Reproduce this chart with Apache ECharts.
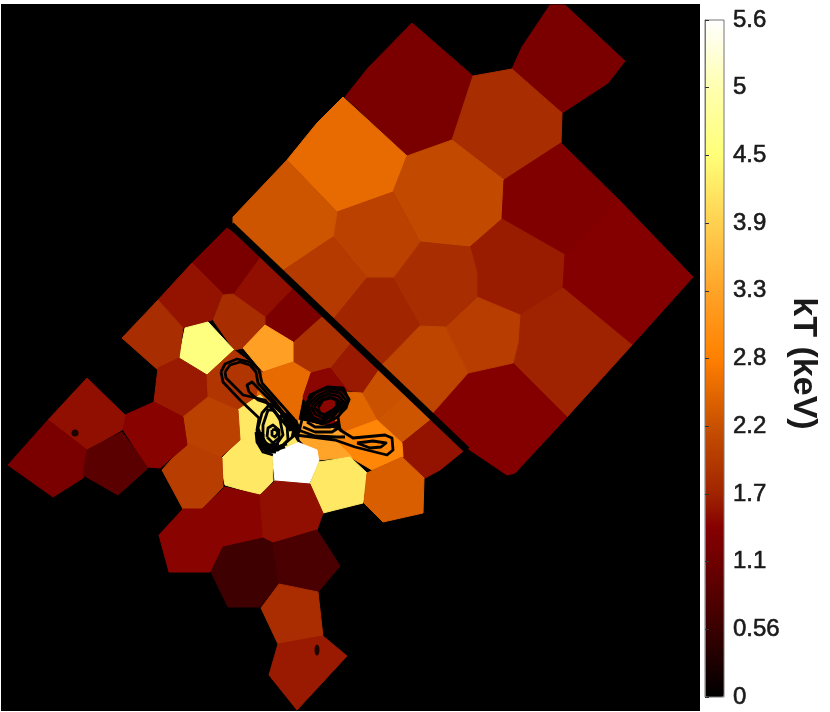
<!DOCTYPE html>
<html>
<head>
<meta charset="utf-8">
<title>kT map</title>
<script src="https://cdn.jsdelivr.net/npm/echarts@6/dist/echarts.min.js"></script>
<style>
html, body { margin: 0; padding: 0; background: #fff; }
#chart { width: 830px; height: 712px; }
</style>
</head>
<body>
<div id="chart"></div>
<script>
// colour bar
const tickLabels = ['0', '0.56', '1.1', '1.7', '2.2', '2.8', '3.3', '3.9', '4.5', '5', '5.6'];
const heatColors = [
  '#000000', '#1c0000', '#3a0000', '#540000', '#6e0000', '#860000', '#a02400',
  '#b43a00', '#c85000', '#e46800', '#ff8000', '#ff9214', '#ffa428', '#ffba3c',
  '#ffd050', '#ffe864', '#ffff78', '#ffff94', '#ffffb0', '#ffffd8', '#ffffff'
];

// temperature of each region, same order as cellOutlines
const cellKT = [
  1.26, 1.26, 1.79, 2.55, 2.16, 1.33, 1.62, 1.38, 1.67, 1.38,
  2.0, 1.79, 2.05, 2.3, 1.96, 1.7, 2.1, 2.25, 2.3, 1.55,
  1.6, 1.85, 1.3, 1.52, 1.26, 1.55, 1.79, 3.3, 4.55, 1.79,
  1.6, 1.9, 2.55, 1.45, 2.5, 2.9, 3.36, 5.6, 4.2, 4.2,
  4.2, 2.4, 2.05, 2.0, 1.42, 1.52, 1.26, 0.92, 1.43, 1.52,
  0.6, 0.73, 1.8, 1.6
];

// region outlines, read in picture pixels
const cellOutlines = [
  [[550,5],[565,5],[625,61],[608,83],[562,113],[512,69],[522,47],[540,20]],
  [[412,23],[473,76],[452,140],[407,156],[345,97],[368,68]],
  [[473,76],[512,69],[562,113],[561,143],[504,180],[452,140]],
  [[343,97],[407,156],[393,192],[337,212],[287,160],[317,123]],
  [[407,156],[452,140],[504,180],[502,219],[470,247],[420,242],[393,192]],
  [[561,143],[619,200],[565,255],[502,219],[504,180]],
  [[470,247],[502,219],[565,255],[563,288],[520,315],[477,297],[477,273]],
  [[619,200],[693,277],[632,345],[563,288],[565,255]],
  [[563,288],[632,345],[567,417],[513,363],[518,343],[520,315]],
  [[513,363],[567,417],[515,473],[507,475],[467,448],[430,416],[468,373]],
  [[477,297],[520,315],[518,343],[513,363],[468,373],[445,327]],
  [[420,242],[470,247],[477,273],[477,297],[445,327],[420,326],[393,278]],
  [[337,212],[393,192],[420,242],[393,278],[367,278],[333,237]],
  [[287,160],[337,212],[333,237],[278,274],[233,225],[233,217]],
  [[333,237],[367,278],[332,321],[278,274]],
  [[367,278],[393,278],[420,326],[380,367],[332,321]],
  [[420,326],[445,327],[468,373],[430,416],[380,367]],
  [[380,367],[362,393],[377,420],[407,393]],
  [[407,393],[377,420],[402,443],[433,418]],
  [[433,418],[402,443],[403,457],[423,479],[440,470],[467,448]],
  [[330,368],[352,341],[380,367],[362,393],[347,390]],
  [[293,342],[323,315],[352,341],[330,368],[311,373],[293,362]],
  [[265,317],[295,286],[323,315],[293,342],[265,327]],
  [[233,294],[262,254],[295,286],[265,317]],
  [[227,228],[262,254],[233,294],[223,294],[192,263]],
  [[192,263],[223,294],[212,320],[183,328],[158,300]],
  [[213,320],[223,295],[233,294],[265,317],[265,327],[243,348],[234,350]],
  [[265,325],[293,342],[293,362],[263,372],[243,348]],
  [[185,328],[208,322],[234,350],[207,375],[179,358]],
  [[158,300],[183,328],[179,358],[158,370],[122,338]],
  [[158,368],[179,358],[207,375],[208,397],[183,417],[154,402]],
  [[207,375],[234,350],[263,372],[260,395],[238,410],[208,397]],
  [[263,372],[293,362],[311,373],[303,395],[298,420],[257,395]],
  [[311,373],[330,368],[347,390],[350,420],[320,425],[303,397]],
  [[347,392],[362,393],[377,420],[345,432],[335,420]],
  [[377,420],[402,443],[403,457],[372,470],[350,457],[335,440],[345,432]],
  [[298,420],[320,425],[345,432],[335,440],[352,457],[318,460],[300,440]],
  [[272,453],[297,442],[317,450],[319,462],[309,484],[275,481]],
  [[319,462],[350,457],[367,473],[363,503],[323,513],[310,484]],
  [[220,460],[240,440],[272,453],[273,481],[260,495],[225,485]],
  [[238,410],[260,395],[283,417],[297,442],[272,453],[240,440]],
  [[367,473],[402,457],[424,478],[423,513],[383,522],[364,503]],
  [[183,417],[208,397],[238,410],[240,440],[220,458],[187,445]],
  [[162,470],[186,443],[222,458],[223,487],[202,509],[183,509]],
  [[125,415],[154,402],[183,417],[187,445],[160,468],[147,467],[122,428]],
  [[87,378],[125,415],[122,430],[87,450],[48,420]],
  [[48,420],[87,450],[83,478],[53,497],[8,465]],
  [[87,450],[122,432],[148,468],[118,495],[83,475]],
  [[159,535],[183,509],[202,509],[225,487],[260,495],[263,538],[223,547],[210,572],[169,572]],
  [[260,495],[275,481],[310,484],[323,513],[317,530],[273,543],[263,538]],
  [[223,547],[263,538],[273,543],[279,583],[260,607],[228,607],[211,572]],
  [[273,543],[317,530],[340,566],[318,592],[279,584]],
  [[279,584],[318,592],[323,637],[278,644],[261,608]],
  [[278,644],[323,636],[347,656],[297,710],[269,675]]
];

// surface brightness contours, in picture pixels
const contourLines = [
  // outer envelope
  [[221,372],[225,364],[237,359],[250,362],[259,370],[262,383],[277,400],[293,418],[300,428],[303,415],[310,395],[327,387],[343,388],[349,400],[338,417],[340,430],[353,438],[385,435],[392,438],[393,450],[387,455],[355,447],[335,440],[312,437],[295,435],[283,445],[267,452],[258,440],[257,430],[259,418],[240,400],[223,382],[221,372]],
  [[225,372],[230,365],[240,362],[250,365],[256,372],[258,383],[275,402],[287,418],[290,430],[265,400],[243,395],[226,378],[225,372]],
  [[249,392],[247,385],[252,382],[270,400],[283,413],[280,418],[267,403],[258,400],[249,392]],
  // left knot
  [[262,440],[258,428],[262,413],[270,404],[280,410],[287,425],[288,440],[278,450],[267,450],[262,440]],
  [[263,438],[263,425],[268,410],[274,410],[280,420],[283,435],[276,445],[268,447],[263,438]],
  [[267,437],[268,428],[273,425],[279,430],[279,438],[273,443],[267,437]],
  [[272,430],[276,429],[278,433],[275,437],[272,435],[272,430]],
  [[259,430],[258,440],[264,449],[275,450],[285,447]],
  [[261,432],[261,442],[267,447],[277,447],[287,444]],
  [[263,434],[263,441],[269,445],[279,444]],
  [[256,432],[257,442],[263,452],[273,455]],
  [[258,435],[260,445],[266,451],[276,452]],
  [[287,412],[295,425],[292,437]],
  [[293,418],[300,430],[296,437]],
  // right knot
  [[305,405],[315,393],[326,388],[342,390],[349,399],[346,408],[336,418],[322,424],[310,420],[305,405]],
  [[308,405],[317,396],[327,391],[340,393],[346,400],[343,407],[334,415],[322,421],[312,417],[308,405]],
  [[311,406],[319,398],[328,394],[338,396],[343,401],[340,407],[332,413],[323,418],[315,414],[311,406]],
  [[314,407],[321,400],[329,397],[336,399],[340,402],[338,407],[331,411],[324,415],[318,412],[314,407]],
  [[318,408],[323,400],[331,398],[336,400],[337,405],[333,412],[326,415],[320,413],[318,408]],
  [[310,417],[317,422],[328,422],[335,417]],
  [[307,422],[315,427],[330,427],[338,422]],
  [[303,427],[315,432],[332,432],[340,427]],
  [[298,430],[315,436],[337,437],[345,437]],
  // tail
  [[357,443],[373,441],[386,443],[381,447],[370,448],[357,443]]
];

// the gap between the two pointings and the two point sources cut out
const gapLine = [[231,225],[467,450]];
const maskedRound = [[75,433]];
const maskedTall = [[317,650]];

const myChart = echarts.init(document.getElementById('chart'));

const option = {
  animation: false,
  backgroundColor: '#ffffff',
  grid: [
    { left: 1, top: 4, width: 699, height: 707, show: true, backgroundColor: '#000000', borderWidth: 0 },
    { left: 705, top: 20, width: 19, height: 677, show: true, backgroundColor: 'transparent', borderColor: '#777777', borderWidth: 1, z: 6 },
  ],
  xAxis: [
    { gridIndex: 0, type: 'value', min: 1, max: 700, show: false },
    { gridIndex: 1, type: 'value', min: 0, max: 1, show: false },
  ],
  yAxis: [
    { gridIndex: 0, type: 'value', min: 4, max: 711, inverse: true, show: false },
    {
      gridIndex: 1,
      type: 'value',
      min: 0,
      max: 5.6,
      interval: 0.56,
      position: 'right',
      z: 7,
      splitLine: { show: false },
      axisLine: { show: true, lineStyle: { color: '#777777', width: 1 } },
      axisTick: { show: true, length: 4, lineStyle: { color: '#333333', width: 1 } },
      axisLabel: {
        margin: 9,
        color: '#1a1a1a',
        fontFamily: 'Liberation Sans',
        fontSize: 24,
        textBorderColor: '#1a1a1a',
        textBorderWidth: 0.6,
        formatter: (value, index) => tickLabels[index],
      },
      name: 'kT (keV)',
      nameLocation: 'middle',
      nameRotate: -90,
      nameGap: 62,
      nameTextStyle: { color: '#1a1a1a', fontFamily: 'Liberation Sans', fontWeight: 'bold', fontSize: 34, padding: [0, 0, 0, 10] },
    },
  ],
  visualMap: {
    type: 'continuous',
    seriesIndex: 0,
    dimension: 1,
    min: 0,
    max: 5.6,
    calculable: false,
    hoverLink: false,
    realtime: false,
    left: 705,
    top: 20,
    itemWidth: 19,
    itemHeight: 677,
    padding: 0,
    text: ['', ''],
    showLabel: false,
    inRange: { color: heatColors },
  },
  series: [
    {
      type: 'custom',
      xAxisIndex: 0,
      yAxisIndex: 0,
      silent: true,
      clip: true,
      data: cellKT.map((kT, i) => [i, kT]),
      renderItem: (params, api) => {
        const color = api.visual('color');
        return {
          type: 'polygon',
          shape: { points: cellOutlines[api.value(0)].map(p => api.coord(p)) },
          style: { fill: color, stroke: color, lineWidth: 1 },
        };
      },
    },
    {
      type: 'custom',
      xAxisIndex: 0,
      yAxisIndex: 0,
      silent: true,
      clip: true,
      data: contourLines.map((c, i) => [i, 0]),
      renderItem: (params, api) => ({
        type: 'polyline',
        shape: { points: contourLines[api.value(0)].map(p => api.coord(p)) },
        style: { fill: null, stroke: '#000000', lineWidth: 2.8, lineJoin: 'round' },
      }),
    },
    {
      type: 'line',
      xAxisIndex: 0,
      yAxisIndex: 0,
      silent: true,
      data: gapLine,
      symbol: 'none',
      lineStyle: { color: '#000000', width: 7 },
    },
    {
      type: 'scatter',
      xAxisIndex: 0,
      yAxisIndex: 0,
      silent: true,
      data: maskedRound,
      symbol: 'circle',
      symbolSize: 7,
      itemStyle: { color: '#000000' },
    },
    {
      type: 'scatter',
      xAxisIndex: 0,
      yAxisIndex: 0,
      silent: true,
      data: maskedTall,
      symbol: 'circle',
      symbolSize: [5, 11],
      itemStyle: { color: '#000000' },
    },
  ],
};

myChart.setOption(option);

window.addEventListener('resize', () => {
  myChart.resize();
});
</script>
</body>
</html>
